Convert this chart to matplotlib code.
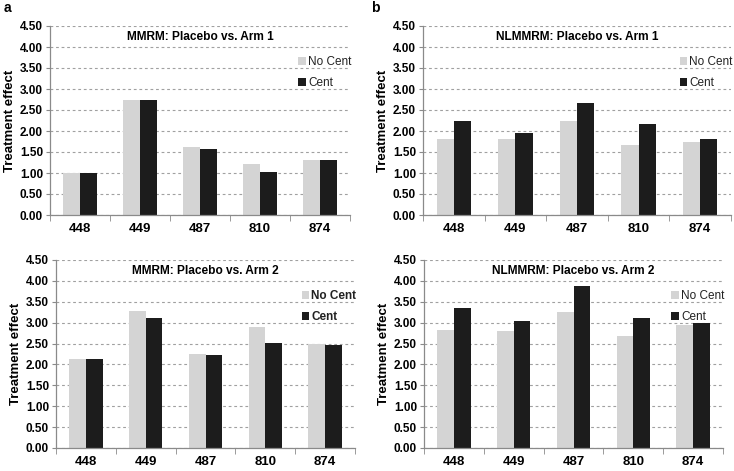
import numpy as np
import matplotlib
matplotlib.use('Agg')
import matplotlib.pyplot as plt

plt.rcParams['font.family'] = ['Liberation Sans', 'DejaVu Sans']

# Treatment effect per patient, no-centering vs centering
patients = ['448', '449', '487', '810', '874']

mmrm_arm1_nocent = [1.00, 2.74, 1.62, 1.21, 1.31]
mmrm_arm1_cent = [0.99, 2.74, 1.57, 1.03, 1.31]

nlmmrm_arm1_nocent = [1.80, 1.82, 2.23, 1.67, 1.73]
nlmmrm_arm1_cent = [2.24, 1.96, 2.66, 2.17, 1.81]

mmrm_arm2_nocent = [2.13, 3.27, 2.26, 2.89, 2.49]
mmrm_arm2_cent = [2.13, 3.12, 2.22, 2.52, 2.47]

nlmmrm_arm2_nocent = [2.83, 2.81, 3.26, 2.67, 2.94]
nlmmrm_arm2_cent = [3.34, 3.05, 3.87, 3.12, 3.00]

yticks = [0.0, 0.5, 1.0, 1.5, 2.0, 2.5, 3.0, 3.5, 4.0, 4.5]

light = '#d4d4d4'
dark = '#1c1c1c'
axcol = '#8a8a8a'

W, H = 734, 471
fig = plt.figure(figsize=(W / 100, H / 100), dpi=100)


def make_ax(x0, x1, ytop, ybot):
    return fig.add_axes([x0 / W, 1 - ybot / H, (x1 - x0) / W, (ybot - ytop) / H])


def panel(ax, title, nocent, cent, bold_legend=False):
    x = np.arange(len(patients))
    bw = 0.28
    ax.bar(x - bw / 2, nocent, bw, color=light, label='No Cent', zorder=3)
    ax.bar(x + bw / 2, cent, bw, color=dark, label='Cent', zorder=3)
    ax.set_xlim(-0.5, len(patients) - 0.5)
    ax.set_ylim(0, 4.5)
    ax.set_yticks(yticks)
    ax.set_yticklabels(['%.2f' % v for v in yticks], fontsize=8.5, fontweight='bold')
    ax.set_xticks(x)
    ax.set_xticklabels(patients, fontsize=9.5, fontweight='bold')
    ax.set_xticks(np.arange(-0.5, len(patients), 1.0), minor=True)
    ax.tick_params(axis='x', which='major', length=0, pad=6)
    ax.tick_params(axis='x', which='minor', length=4, direction='out', color=axcol)
    ax.tick_params(axis='y', length=3, direction='out', color=axcol, pad=2)
    ax.yaxis.grid(True, linestyle=(0, (2.5, 2.5)), color='#a0a0a0', linewidth=0.8, zorder=0)
    ax.set_axisbelow(True)
    for s in ['top', 'right']:
        ax.spines[s].set_visible(False)
    for s in ['left', 'bottom']:
        ax.spines[s].set_color(axcol)
        ax.spines[s].set_linewidth(0.9)
    ax.spines['bottom'].set_zorder(4)
    ax.set_ylabel('Treatment effect', fontsize=9.5, fontweight='bold', labelpad=3)
    ax.text(0.5, 0.94, title, transform=ax.transAxes, ha='center', va='center',
            fontsize=8.6, fontweight='bold')
    leg = ax.legend(loc='upper right', bbox_to_anchor=(1.02, 0.865), frameon=False,
                    handlelength=0.6, handleheight=0.6, handletextpad=0.2,
                    labelspacing=0.75, borderaxespad=0,
                    prop={'size': 8.5, 'weight': 'bold' if bold_legend else 'normal'})
    for t in leg.get_texts():
        t.set_color('#222222')


ax1 = make_ax(50, 350, 26, 215)
panel(ax1, 'MMRM: Placebo vs. Arm 1', mmrm_arm1_nocent, mmrm_arm1_cent)

ax2 = make_ax(423, 731, 26, 215)
panel(ax2, 'NLMMRM: Placebo vs. Arm 1', nlmmrm_arm1_nocent, nlmmrm_arm1_cent)

ax3 = make_ax(56, 355, 260, 448)
panel(ax3, 'MMRM: Placebo vs. Arm 2', mmrm_arm2_nocent, mmrm_arm2_cent, bold_legend=True)

ax4 = make_ax(424, 723, 260, 448)
panel(ax4, 'NLMMRM: Placebo vs. Arm 2', nlmmrm_arm2_nocent, nlmmrm_arm2_cent)

fig.text(4 / W, 1 - 8 / H, 'a', fontsize=10, fontweight='bold', va='center', ha='left')
fig.text(371 / W, 1 - 8 / H, 'b', fontsize=10, fontweight='bold', va='center', ha='left')

fig.savefig('out.png', dpi=100)
